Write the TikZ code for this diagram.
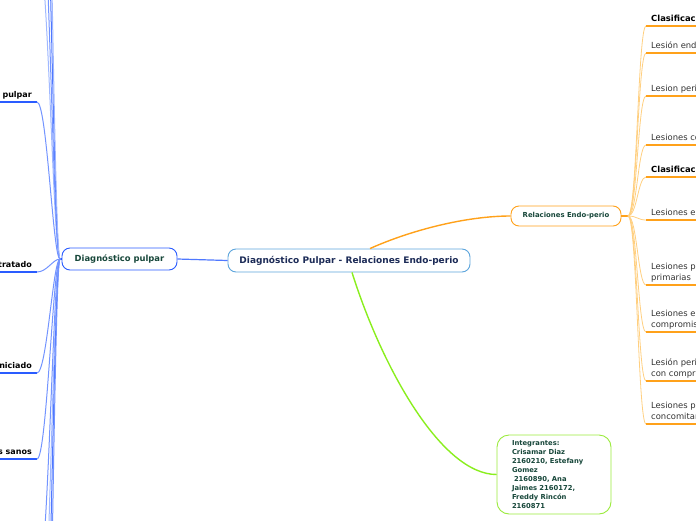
\documentclass[tikz,border=0pt]{standalone}
\usepackage{fontspec}
\setmainfont{DejaVu Sans}
\usetikzlibrary{calc}
\definecolor{mainblue}{HTML}{5DA5DC}
\definecolor{navy}{HTML}{1C2B57}
\definecolor{dblue}{HTML}{2A5CFF}
\definecolor{mblue}{HTML}{4F78FF}
\definecolor{lblue}{HTML}{7394FF}
\definecolor{pblue}{HTML}{A0B8FF}
\definecolor{dgreen}{HTML}{17473A}
\definecolor{orng}{HTML}{FFA11A}
\definecolor{lorng}{HTML}{FFCF80}
\definecolor{ugreen}{HTML}{9BEB3C}
\definecolor{lgreen}{HTML}{8AEE1E}
\definecolor{txtgray}{HTML}{333333}
\begin{document}
\begin{tikzpicture}[x=1pt,y=-1pt,
  box/.style={draw, rounded corners=8pt, fill=white, line width=0.9pt, inner sep=0pt, align=center},
  llab/.style={inner sep=0pt, anchor=base east, text=black, font=\fontsize{8}{10}\selectfont\bfseries},
  rlab/.style={inner sep=0pt, anchor=base west, text=txtgray, font=\fontsize{8.4}{10.5}\selectfont},
  rbold/.style={rlab, text=black, font=\fontsize{8.4}{10.5}\selectfont\bfseries},
  lunder/.style={dblue, line width=1.6pt},
  runder/.style={orng, line width=1.6pt},
  lbranch/.style={line width=1pt},
  rbranch/.style={lorng, line width=0.8pt}
]
\useasboundingbox (0,0) rectangle (696,520);
\clip (0,0) rectangle (696,520);

% central nodes
\node[box, draw=mainblue, text=navy, minimum width=242pt, minimum height=23pt,
  font=\fontsize{9}{11}\selectfont\bfseries] (main) at (349,260.5) {Diagnóstico Pulpar - Relaciones Endo-perio};
\node[box, draw=dblue, text=dgreen, minimum width=115pt, minimum height=22pt,
  font=\fontsize{8.4}{10}\selectfont\bfseries] (diag) at (119.5,259) {Diagnóstico pulpar};
\node[box, draw=orng, text=dgreen, minimum width=110pt, minimum height=20pt,
  font=\fontsize{6.9}{8}\selectfont\bfseries] (rel) at (566,216) {Relaciones Endo-perio};
\node[box, draw=ugreen, rounded corners=12pt, text=dgreen, minimum width=114pt, minimum height=79pt,
  text width=84pt, align=left, font=\fontsize{6.8}{8.9}\selectfont\bfseries] (integ) at (554,474.5)
  {Integrantes:\\Crisamar Diaz\\2160210, Estefany\\Gomez\\\hspace*{2pt}2160890, Ana\\Jaimes 2160172,\\Freddy Rincón\\2160871};

% main connectors
\draw[mblue, line width=1.2pt] (main.west) -- (diag.east);
\draw[orng, line width=1.4pt] ($(main.north)+(21,0)$) .. controls +(40,-18) and +(-45,0) .. (rel.west);
\draw[lgreen, line width=1.4pt] ($(main.south)+(3,0)$) .. controls +(30,95) and +(-55,0) .. (integ.west);

% left branch
\coordinate (lf) at (60,259);
\draw[dblue, line width=1.2pt] (diag.west) -- (lf);
\foreach \y/\c in {-60/pblue, -160/lblue, -320/mblue, -500/pblue, 590/lblue, 720/pblue, 880/mblue, 1100/lblue}{
  \coordinate (h) at (37,\y);
  \draw[lbranch, \c] (lf) .. controls (53,259) and (48,\y) .. (h);
}
\foreach \n/\y/\t in {a/102/pulpar, b/272/tratado, c/373/niciado, d/459/s sanos}{
  \node[llab] (l\n) at (32,\y-5) {\t};
  \coordinate (u\n) at (37,\y);
  \coordinate (s\n) at (0,\y);
  \draw[lunder] (s\n) -- (u\n);
  \draw[lbranch, lblue] (lf) .. controls (53,259) and (47,\y) .. (u\n);
}

% right branch
\coordinate (rf) at (628,216);
\draw[orng, line width=1.4pt] (rel.east) -- (rf);
\foreach \n/\y in {1/26, 2/53, 3/96, 4/145, 5/177, 6/220, 7/285, 8/332, 9/381, 10/424}{
  \coordinate (r\n) at (646,\y);
  \coordinate (e\n) at (700,\y);
  \draw[rbranch] (rf) .. controls (637,216) and (638,\y) .. (r\n);
  \draw[runder] (r\n) -- (e\n);
}
\node[rbold] (t1) at (651,21) {Clasificación};
\node[rlab] (t2) at (651,48) {Lesión endodóntica primaria};
\node[rlab] (t3) at (651,91) {Lesion periodontal primaria};
\node[rlab] (t4) at (651,140) {Lesiones combinadas};
\node[rbold] (t5) at (651,172) {Clasificación};
\node[rlab] (t6) at (651,215) {Lesiones endodónticas primarias};
\node[rlab] (t7a) at (651,269.5) {Lesiones periodontales};
\node[rlab] (t7b) at (651,280) {primarias};
\node[rlab] (t8a) at (651,316.5) {Lesiones endodónticas con};
\node[rlab] (t8b) at (651,327) {compromiso periodontal};
\node[rlab] (t9a) at (651,365.5) {Lesión periodontal primaria};
\node[rlab] (t9b) at (651,376) {con compromiso endodóntico};
\node[rlab] (t10a) at (651,408.5) {Lesiones periodontales};
\node[rlab] (t10b) at (651,419) {concomitantes};
\end{tikzpicture}
\end{document}
